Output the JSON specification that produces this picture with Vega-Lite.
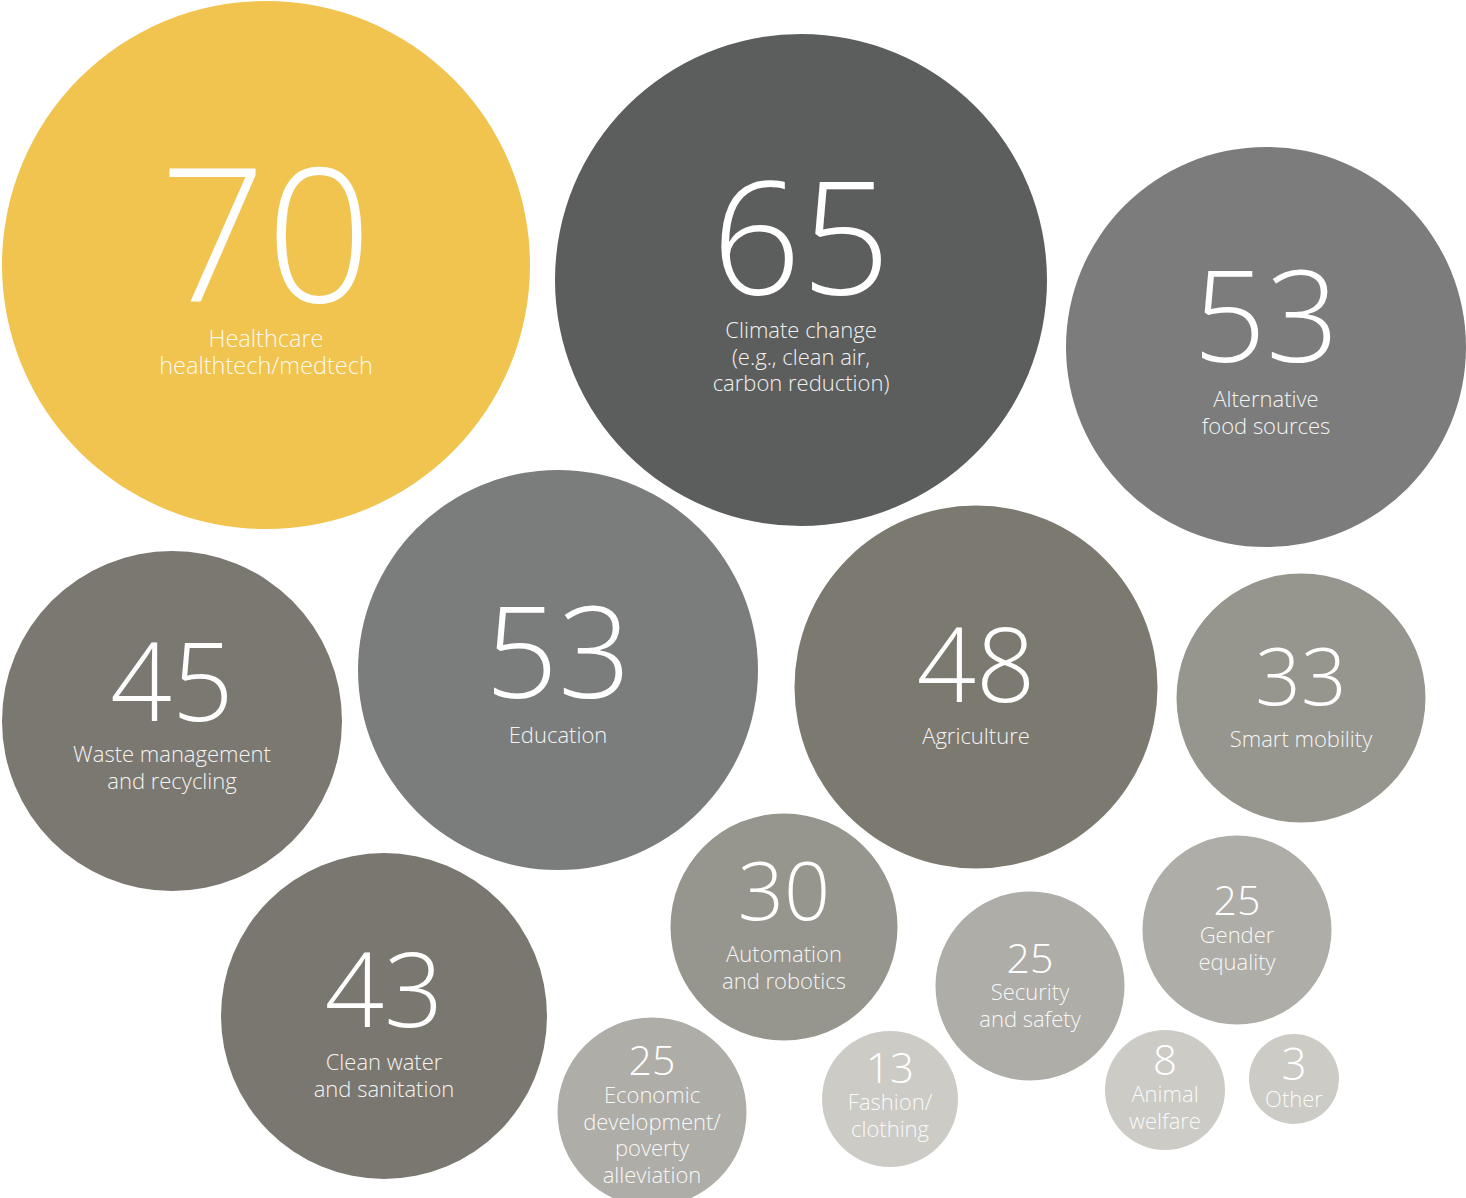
{
  "$schema": "https://vega.github.io/schema/vega-lite/v6.json",
  "width": 1466,
  "height": 1198,
  "autosize": "none",
  "padding": 0,
  "background": "white",
  "config": {"view": {"stroke": null}},
  "data": {"values": [
    {"cat": "Healthcare", "value": 70, "x": 266, "y": 265, "d": 528, "ny": 302, "ly": 347, "label": ["Healthcare", "healthtech/medtech"]},
    {"cat": "Climate change", "value": 65, "x": 801, "y": 280, "d": 492, "ny": 294, "ly": 338, "label": ["Climate change", "(e.g., clean air,", "carbon reduction)"]},
    {"cat": "Alternative food sources", "value": 53, "x": 1266, "y": 347, "d": 400, "ny": 362, "ly": 407, "label": ["Alternative", "food sources"]},
    {"cat": "Education", "value": 53, "x": 558, "y": 670, "d": 400, "ny": 698, "ly": 743, "label": ["Education"]},
    {"cat": "Waste management", "value": 45, "x": 172, "y": 721, "d": 340, "ny": 721, "ly": 762, "label": ["Waste management", "and recycling"]},
    {"cat": "Agriculture", "value": 48, "x": 976, "y": 687, "d": 363, "ny": 702, "ly": 744, "label": ["Agriculture"]},
    {"cat": "Smart mobility", "value": 33, "x": 1301, "y": 698, "d": 249, "ny": 705, "ly": 747, "label": ["Smart mobility"]},
    {"cat": "Clean water", "value": 43, "x": 384, "y": 1016, "d": 326, "ny": 1027, "ly": 1070, "label": ["Clean water", "and sanitation"]},
    {"cat": "Automation", "value": 30, "x": 784, "y": 927, "d": 227, "ny": 920, "ly": 962, "label": ["Automation", "and robotics"]},
    {"cat": "Security", "value": 25, "x": 1030, "y": 986, "d": 189, "ny": 973, "ly": 1000, "label": ["Security", "and safety"]},
    {"cat": "Gender", "value": 25, "x": 1237, "y": 930, "d": 189, "ny": 915, "ly": 943, "label": ["Gender", "equality"]},
    {"cat": "Economic", "value": 25, "x": 652, "y": 1112, "d": 189, "ny": 1075, "ly": 1103, "label": ["Economic", "development/", "poverty", "alleviation"]},
    {"cat": "Fashion", "value": 13, "x": 890, "y": 1099, "d": 136, "ny": 1083, "ly": 1110, "label": ["Fashion/", "clothing"]},
    {"cat": "Animal welfare", "value": 8, "x": 1165, "y": 1090, "d": 120, "ny": 1075, "ly": 1102, "label": ["Animal", "welfare"]},
    {"cat": "Other", "value": 3, "x": 1294, "y": 1079, "d": 90, "ny": 1080, "ly": 1107, "label": ["Other"]}
  ]},
  "layer": [
    {
      "mark": {"type": "circle", "opacity": 1, "stroke": null},
      "encoding": {
        "x": {"field": "x", "type": "quantitative", "scale": {"domain": [0, 1466], "nice": false, "zero": false}, "axis": null},
        "y": {"field": "y", "type": "quantitative", "scale": {"domain": [0, 1198], "reverse": true, "nice": false, "zero": false}, "axis": null},
        "size": {"field": "d", "type": "quantitative", "scale": {"type": "pow", "exponent": 2, "domain": [0, 1000], "range": [0, 1000000]}, "legend": null},
        "color": {"field": "cat", "type": "nominal", "legend": null, "scale": {
          "domain": ["Healthcare", "Climate change", "Alternative food sources", "Education", "Waste management", "Agriculture", "Smart mobility", "Clean water", "Automation", "Security", "Gender", "Economic", "Fashion", "Animal welfare", "Other"],
          "range": ["#F1C44F", "#5C5E5D", "#7B7C7B", "#7B7D7C", "#7B7871", "#7C7971", "#96958E", "#7A7770", "#96958E", "#AEADA8", "#AEADA8", "#AEADA8", "#CCCBC6", "#CCCBC6", "#CCCBC6"]
        }}
      }
    },
    {
      "mark": {"type": "text", "font": "Open Sans", "fontWeight": 300, "color": "white", "align": "center", "baseline": "alphabetic"},
      "encoding": {
        "x": {"field": "x", "type": "quantitative"},
        "y": {"field": "ny", "type": "quantitative"},
        "text": {"field": "value", "type": "nominal"},
        "size": {"field": "value", "type": "quantitative", "legend": null, "scale": {
          "type": "threshold",
          "domain": [5, 10, 20, 28, 31, 40, 44, 46, 50, 60, 68],
          "range": [44, 42, 42, 41, 81, 80, 104, 108, 104, 128, 157, 186]
        }}
      }
    },
    {
      "mark": {"type": "text", "font": "Open Sans", "fontWeight": 300, "color": "white", "opacity": 0.92, "align": "center", "baseline": "alphabetic", "lineHeight": 26.5},
      "encoding": {
        "x": {"field": "x", "type": "quantitative"},
        "y": {"field": "ly", "type": "quantitative"},
        "text": {"field": "label"},
        "size": {"condition": {"test": "datum.value == 70", "value": 23.5}, "value": 22}
      }
    }
  ]
}
